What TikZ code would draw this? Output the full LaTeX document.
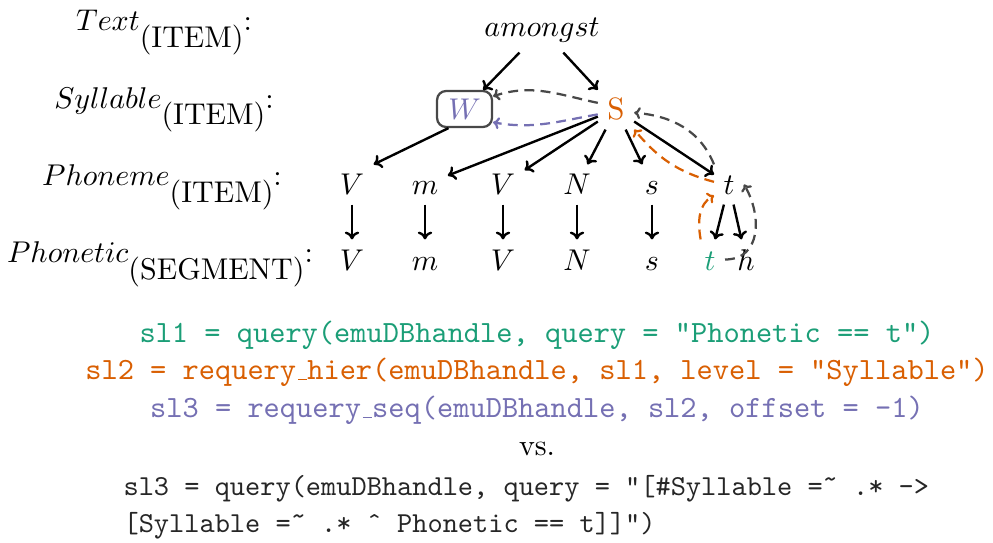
\documentclass[tikz,border=0pt]{standalone}
\usepackage{fontspec}
\usetikzlibrary{arrows.meta,calc}
\definecolor{dgreen}{HTML}{1B9E77}
\definecolor{dorange}{HTML}{D95F02}
\definecolor{dpurple}{HTML}{7570B3}
\definecolor{dgray}{HTML}{484848}
\newcommand\lv[2]{$#1$\raisebox{-5.4pt}{(#2)}:}
\newcommand\us{\leavevmode\kern.06em\vbox{\hrule width.3em}}
\newcommand\tld{{\char"02DC}}
\newcommand\crc{{\char"02C6}}
\begin{document}
\begin{tikzpicture}[x=0.33333pt,y=0.33333pt,
  lbl/.style={anchor=base,inner sep=0pt,font=\fontsize{10}{12}\selectfont},
  ltr/.style={anchor=base,inner sep=3pt,text height=7pt,text depth=0pt,font=\fontsize{10.3}{12}\selectfont},
  code/.style={anchor=base,inner sep=0pt,font=\fontsize{10.3}{12}\selectfont\ttfamily},
  codeb/.style={anchor=base west,inner sep=0pt,text=black!85,font=\fontsize{9.65}{12}\selectfont\ttfamily},
  arr/.style={-{To[length=2.6pt,width=4.8pt]},line width=0.8pt},
  dsh/.style={-{To[length=2.1pt,width=4pt]},line width=0.75pt,dash pattern=on 3.3pt off 2.1pt}]
\useasboundingbox (0,0) rectangle (993,-543);
% level labels
\node[lbl] (lText) at (164,-31) {\lv{Text}{ITEM}};
\node[lbl] (lSyl) at (164,-108.5) {\lv{Syllable}{ITEM}};
\node[lbl] (lPhm) at (162,-186) {\lv{Phoneme}{ITEM}};
\node[lbl] (lPht) at (160,-263) {\lv{Phonetic}{SEGMENT}};
% nodes
\node[ltr,text depth=2pt] (amongst) at (542,-37) {$amongst$};
\node[ltr,text=dorange] (S) at (616,-120) {S};
\node[draw=dgray,line width=0.75pt,rounded corners=3pt,minimum width=18.3pt,minimum height=12pt,inner sep=0pt,text=dpurple,font=\fontsize{10.3}{12}\selectfont] (W) at (464.5,-109) {$W$};
\node[ltr] (V1) at (352,-195) {$V$};
\node[ltr] (m1) at (425,-195) {$m$};
\node[ltr] (V2) at (503,-195) {$V$};
\node[ltr] (N1) at (577,-195) {$N$};
\node[ltr] (s1) at (652,-195) {$s$};
\node[ltr] (t1) at (729,-195) {$t$};
\node[ltr] (V1b) at (352,-270) {$V$};
\node[ltr] (m1b) at (425,-270) {$m$};
\node[ltr] (V2b) at (503,-270) {$V$};
\node[ltr] (N1b) at (577,-270) {$N$};
\node[ltr] (s1b) at (652,-270) {$s$};
\node[ltr,text=dgreen] (tG) at (710,-270) {$t$};
\node[ltr] (h) at (746,-270) {$h$};
% solid arrows
\draw[arr] (amongst) -- (W);
\draw[arr] (amongst) -- (S);
\draw[arr] (W.230) -- (V1.north east);
\draw[arr] (S) -- (m1);
\draw[arr] (S) -- (V2);
\draw[arr] (S) -- (N1);
\draw[arr] (S) -- (s1);
\draw[arr] (S) -- (t1);
\draw[arr] (V1) -- (V1b);
\draw[arr] (m1) -- (m1b);
\draw[arr] (V2) -- (V2b);
\draw[arr] (N1) -- (N1b);
\draw[arr] (s1) -- (s1b);
\draw[arr] (t1) -- (tG);
\draw[arr] (t1) -- (h);
% dashed paths
\draw[dsh,dgray] (S.160) to[out=168,in=18] (W.24);
\draw[dsh,dpurple] (S.195) to[out=190,in=-10] (W.-25);
\draw[dsh,dgray] (t1.north west) to[out=112,in=-5] (S.-10);
\draw[dsh,dorange] (t1.170) to[out=165,in=-50] (S.south east);
\draw[dsh,dorange] (tG.115) to[out=100,in=210] (t1.216);
\draw[dsh,dgray] (tG.east) to[out=0,in=-60,looseness=1.2] (t1.east);
% code
\node[code,text=dgreen] (c1) at (537,-343) {sl1 = query(emuDBhandle, query = "Phonetic == t")};
\node[code,text=dorange] (c2) at (537,-380) {sl2 = requery\us hier(emuDBhandle, sl1, level = "Syllable")};
\node[code,text=dpurple] (c3) at (537,-418) {sl3 = requery\us seq(emuDBhandle, sl2, offset = -1)};
\node[lbl] (vs) at (537,-455) {vs.};
\node[codeb] (c5) at (123,-495) {sl3 = query(emuDBhandle, query = "[\#Syllable =\tld{} .* ->};
\node[codeb] (c6) at (123,-533) {[Syllable =\tld{} .* \crc{} Phonetic == t]]")};
\end{tikzpicture}
\end{document}
